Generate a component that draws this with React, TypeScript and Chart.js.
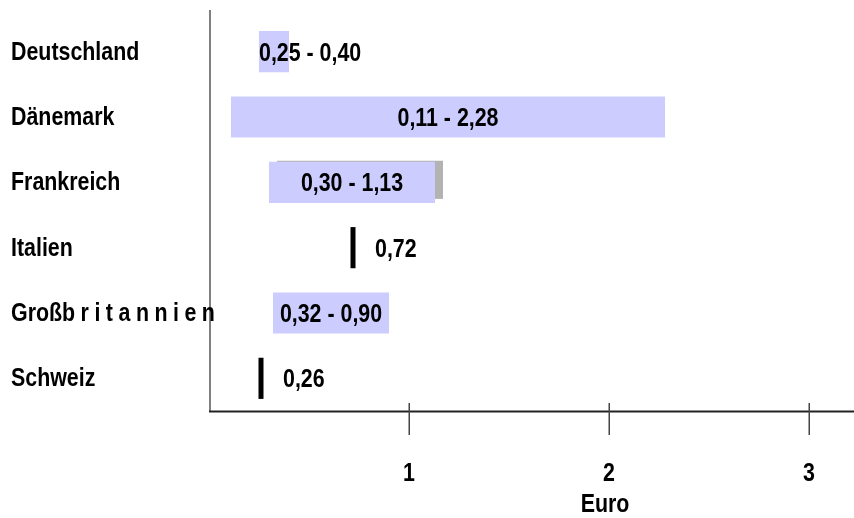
import { useEffect, useRef } from "react";
import { Chart, registerables } from "chart.js";

Chart.register(...registerables);

// Price ranges per country, in euro
const countries = ["Deutschland", "Dänemark", "Frankreich", "Italien", "Großbritannien", "Schweiz"];
const priceLow = [0.25, 0.11, 0.3, 0.72, 0.32, 0.26];
const priceHigh = [0.4, 2.28, 1.13, 0.72, 0.9, 0.26];
const xTicks = [1, 2, 3];
const xTitle = "Euro";

// Rows whose bar carries a drop shadow
const shadowedRows = ["Frankreich"];
// Category labels whose tail is letter-spaced: [first spaced char index, spacing px]
const labelTracking: Record<string, [number, number]> = { "Großbritannien": [5, 5.5] };

const FONT = 'bold 25px "Liberation Sans", Arial, sans-serif';
// horizontal squeeze giving a narrow-face look
const SQUEEZE = 0.855;
const BAR_FILL = "#CCCCFF";
const SHADOW_FILL = "#B3B3B3";
const TEXT = "#000000";

const fmt = (v: number) => v.toFixed(2).replace(".", ",");

function textWidth(ctx: CanvasRenderingContext2D, t: string) {
  return ctx.measureText(t).width * SQUEEZE;
}

function drawText(ctx: CanvasRenderingContext2D, t: string, x: number, y: number, align: CanvasTextAlign) {
  ctx.save();
  ctx.translate(x, y);
  ctx.scale(SQUEEZE, 1);
  ctx.textAlign = align;
  ctx.textBaseline = "middle";
  ctx.fillText(t, 0, 0);
  ctx.restore();
}

const rangePlugin = {
  id: "rangeDecor",
  beforeDatasetsDraw(chart: any) {
    const { ctx, chartArea } = chart;
    const meta = chart.getDatasetMeta(0);
    ctx.save();
    // axes
    ctx.strokeStyle = "#808080";
    ctx.lineWidth = 2;
    ctx.beginPath();
    ctx.moveTo(chartArea.left + 1, chartArea.top - 9);
    ctx.lineTo(chartArea.left + 1, chartArea.bottom + 1);
    ctx.stroke();
    ctx.strokeStyle = "#222222";
    ctx.beginPath();
    ctx.moveTo(chartArea.left, chartArea.bottom + 0.5);
    ctx.lineTo(chartArea.right, chartArea.bottom + 0.5);
    ctx.stroke();
    const xs = chart.scales.x;
    ctx.strokeStyle = "#444444";
    ctx.lineWidth = 1.5;
    xTicks.forEach((v) => {
      const px = Math.round(xs.getPixelForValue(v)) + 0.25;
      ctx.beginPath();
      ctx.moveTo(px, chartArea.bottom - 8);
      ctx.lineTo(px, chartArea.bottom + 24);
      ctx.stroke();
    });
    // shadows
    ctx.fillStyle = SHADOW_FILL;
    meta.data.forEach((bar: any, i: number) => {
      if (!shadowedRows.includes(countries[i])) return;
      const { x, y, base, height } = bar.getProps(["x", "y", "base", "height"], true);
      const left = Math.min(x, base);
      const w = Math.abs(x - base);
      ctx.fillRect(left + 8, y - height / 2 - 1, w, height - 3);
    });
    ctx.restore();
  },
  afterDatasetsDraw(chart: any) {
    const { ctx } = chart;
    const meta = chart.getDatasetMeta(0);
    ctx.save();
    ctx.font = FONT;
    ctx.fillStyle = TEXT;
    meta.data.forEach((bar: any, i: number) => {
      const { x, y, base, height } = bar.getProps(["x", "y", "base", "height"], true);
      const left = Math.min(x, base);
      const w = Math.abs(x - base);
      const lo = priceLow[i];
      const hi = priceHigh[i];
      if (lo === hi) {
        // single price: black marker
        ctx.fillRect(x - 2.5, y - height / 2, 5, height);
        drawText(ctx, fmt(lo), x + 22, y + 2, "left");
      } else {
        const label = `${fmt(lo)} - ${fmt(hi)}`;
        if (textWidth(ctx, label) < w) {
          drawText(ctx, label, left + w / 2, y + 2, "center");
        } else {
          drawText(ctx, label, left, y + 2, "left");
        }
      }
    });
    ctx.restore();
  },
  afterDraw(chart: any) {
    const { ctx, chartArea } = chart;
    const xs = chart.scales.x;
    const ys = chart.scales.y;
    ctx.save();
    ctx.font = FONT;
    ctx.fillStyle = TEXT;
    countries.forEach((name, i) => {
      const y = ys.getPixelForValue(i) + 1;
      const track = labelTracking[name];
      if (!track) {
        drawText(ctx, name, 11, y, "left");
        return;
      }
      const [from, spacing] = track;
      let cx = 11;
      const head = name.slice(0, from);
      drawText(ctx, head, cx, y, "left");
      cx += textWidth(ctx, head) + spacing;
      for (const ch of name.slice(from)) {
        drawText(ctx, ch, cx, y, "left");
        cx += textWidth(ctx, ch) + spacing;
      }
    });
    xTicks.forEach((v) => {
      drawText(ctx, String(v), xs.getPixelForValue(v), chartArea.bottom + 63, "center");
    });
    drawText(ctx, xTitle, xs.getPixelForValue(2) - 4, chartArea.bottom + 94, "center");
    ctx.restore();
  },
};

export default function App() {
  const canvasRef = useRef<HTMLCanvasElement | null>(null);

  useEffect(() => {
    if (!canvasRef.current) return;
    const chart = new Chart(canvasRef.current, {
      type: "bar",
      data: {
        labels: countries,
        datasets: [
          {
            data: countries.map((_, i) => [priceLow[i], priceHigh[i]]) as any,
            backgroundColor: BAR_FILL,
            borderWidth: 0,
            barPercentage: 0.63,
            categoryPercentage: 1,
          },
        ],
      },
      options: {
        indexAxis: "y",
        animation: false,
        responsive: true,
        maintainAspectRatio: false,
        layout: { padding: { top: 19, left: 0, right: 0, bottom: 0 } },
        plugins: {
          legend: { display: false },
          tooltip: { enabled: false },
        },
        scales: {
          x: {
            type: "linear",
            min: 0,
            max: 3.225,
            grid: { display: false },
            border: { display: false },
            ticks: { display: false },
            afterBuildTicks: (s: any) => {
              s.ticks = xTicks.map((v) => ({ value: v }));
            },
            afterFit: (s: any) => {
              s.height = 107;
            },
          },
          y: {
            type: "category",
            grid: { display: false },
            border: { display: false },
            ticks: { display: false },
            afterFit: (s: any) => {
              s.width = 209;
            },
          },
        },
      },
      plugins: [rangePlugin],
    });
    return () => chart.destroy();
  }, []);

  return (
    <div style={{ position: "fixed", left: 0, top: 0, width: 854, height: 518, background: "#ffffff" }}>
      <canvas ref={canvasRef} />
    </div>
  );
}
